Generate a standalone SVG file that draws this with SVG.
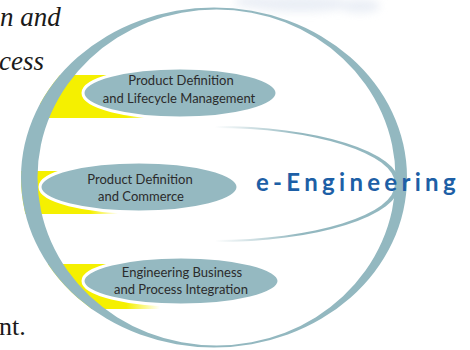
<svg xmlns="http://www.w3.org/2000/svg" width="470" height="350" viewBox="0 0 470 350">
  <style>
    .doc { font-family: "Liberation Serif", "DejaVu Serif", serif; font-style: italic; font-size: 27px; fill: #1a1a1a; }
    .doc2 { font-family: "Liberation Serif", "DejaVu Serif", serif; font-size: 26px; fill: #1a1a1a; }
    .node { fill: #95b9c1; stroke: #ffffff; stroke-width: 3; }
    .lbl { font-family: Lato, "Open Sans", "DejaVu Sans", sans-serif; font-size: 13px; fill: #2b2b2b; text-anchor: middle; }
    .title { font-family: Lato, "Open Sans", "DejaVu Sans", sans-serif; font-weight: bold; font-size: 24px; fill: #1d5fa6; letter-spacing: 4.3px; }
    .ring { fill: #93b8c0; fill-rule: evenodd; }
  </style>
  <defs>
    <linearGradient id="yel" x1="0" y1="0" x2="1" y2="0">
      <stop offset="0" stop-color="#f5f000"/>
      <stop offset="0.72" stop-color="#f5f000"/>
      <stop offset="1" stop-color="#f5f000" stop-opacity="0"/>
    </linearGradient>
    <linearGradient id="arcg" gradientUnits="userSpaceOnUse" x1="215" y1="0" x2="300" y2="0">
      <stop offset="0" stop-color="#93b8c0" stop-opacity="0"/>
      <stop offset="1" stop-color="#93b8c0"/>
    </linearGradient>
    <clipPath id="inside">
      <ellipse cx="214" cy="177.5" rx="193" ry="170"/>
    </clipPath>
    <filter id="blur" x="-50%" y="-50%" width="200%" height="200%">
      <feGaussianBlur stdDeviation="4"/>
    </filter>
  </defs>

  <rect width="470" height="350" fill="#ffffff"/>

  <g id="cloud" filter="url(#blur)" fill="#e2e8f2" opacity="0.7">
    <ellipse cx="300" cy="4" rx="52" ry="8"/>
    <ellipse cx="360" cy="6" rx="20" ry="7"/>
    <ellipse cx="255" cy="2" rx="20" ry="6"/>
  </g>

  <g id="doc-text">
    <text class="doc" x="0" y="26">n and</text>
    <text class="doc" x="-1" y="70">cess</text>
    <text class="doc2" x="-1" y="335">nt.</text>
  </g>

  <g id="yellow" clip-path="url(#inside)">
    <rect x="40" y="75" width="120" height="43" fill="url(#yel)"/>
    <rect x="20" y="171" width="98" height="43" fill="url(#yel)"/>
    <rect x="40" y="264" width="120" height="45" fill="url(#yel)"/>
  </g>

  <g id="ring">
    <path class="ring" d="M21,177.5 A193,170 0 1,0 407,177.5 A193,170 0 1,0 21,177.5 Z M37.5,177.5 A179,168 0 1,1 395.5,177.5 A179,168 0 1,1 37.5,177.5 Z"/>
  </g>

  <g id="connectors">
    <path d="M215,126 A185,58 0 0,1 215,242 L215,240 A180,56 0 0,0 215,128 Z" fill="url(#arcg)"/>
  </g>

  <g id="node-lifecycle">
    <ellipse class="node" cx="180" cy="93" rx="97" ry="25"/>
    <text class="lbl" x="181" y="85">Product Definition</text>
    <text class="lbl" x="179" y="103">and Lifecycle Management</text>
  </g>

  <g id="node-commerce">
    <ellipse class="node" cx="139" cy="187" rx="99" ry="25"/>
    <text class="lbl" x="140" y="184">Product Definition</text>
    <text class="lbl" x="141" y="201">and Commerce</text>
  </g>

  <g id="node-integration">
    <ellipse class="node" cx="181" cy="281" rx="98" ry="24"/>
    <text class="lbl" x="182" y="277">Engineering Business</text>
    <text class="lbl" x="181" y="294">and Process Integration</text>
  </g>

  <g id="title">
    <text class="title" x="256" y="191">e-Engineering</text>
  </g>
</svg>
